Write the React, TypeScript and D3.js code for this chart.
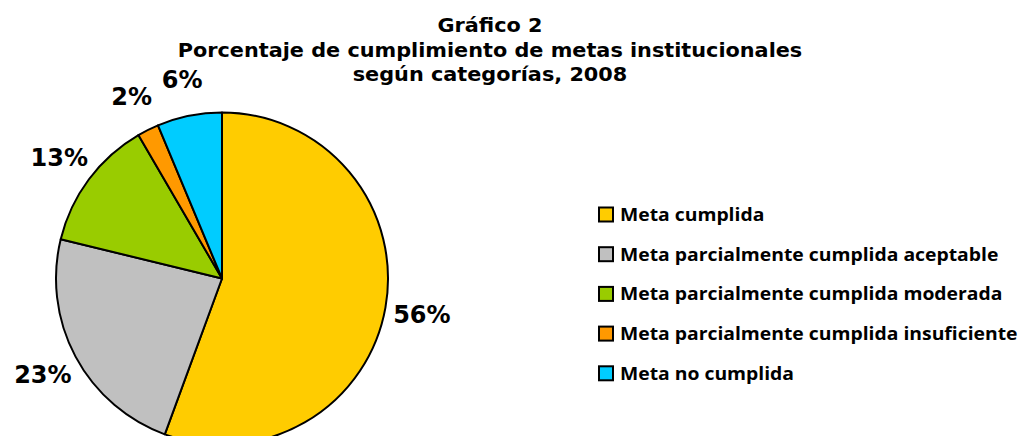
import React from "react";
import * as d3 from "d3";

const categories = [
  "Meta cumplida",
  "Meta parcialmente cumplida aceptable",
  "Meta parcialmente cumplida moderada",
  "Meta parcialmente cumplida insuficiente",
  "Meta no cumplida",
];
const values = [55.6, 23.2, 12.8, 2.1, 6.3];
const colors = ["#FFCC00", "#C0C0C0", "#99CC00", "#FF9900", "#00CCFF"];
const titleLines = [
  "Gráfico 2",
  "Porcentaje de cumplimiento de metas institucionales",
  "según categorías, 2008",
];

const W = 1019;
const H = 436;

export default function App() {
  const cx = 222;
  const cy = 278.5;
  const r = 166;
  const data = categories.map((c, i) => ({ c, v: values[i], color: colors[i] }));
  const pie = d3
    .pie<any>()
    .value((d: any) => d.v)
    .sort(null)
    .startAngle(0)
    .endAngle(2 * Math.PI);
  const arcs = pie(data);
  const arc = d3.arc<any>().innerRadius(0).outerRadius(r);
  const labelArc = d3.arc<any>().innerRadius(r + 37).outerRadius(r + 37);
  const total = d3.sum(values);
  const titleBase = [32, 57, 81];

  return (
    <div style={{ position: "fixed", left: 0, top: 0, width: W, height: H, background: "#fff" }}>
      <svg width={W} height={H} viewBox={`0 0 ${W} ${H}`}>
        <rect width={W} height={H} fill="#fff" />
        <g
          fontFamily="DejaVu Sans"
          fontWeight="bold"
          fontSize={19}
          textAnchor="middle"
          fill="#000"
          transform="translate(490,0) scale(1.095,1)"
        >
          {titleLines.map((t, i) => (
            <text key={i} x={0} y={titleBase[i]}>
              {t}
            </text>
          ))}
        </g>
        <g transform={`translate(${cx},${cy})`}>
          {arcs.map((a, i) => (
            <path key={i} d={arc(a) || ""} fill={a.data.color} stroke="#000" strokeWidth={2} strokeLinejoin="round" />
          ))}
          {arcs.map((a, i) => {
            const [x, y] = labelArc.centroid(a);
            return (
              <text
                key={"l" + i}
                x={x}
                y={y}
                dy="0.36em"
                textAnchor="middle"
                fontFamily="DejaVu Sans"
                fontWeight="bold"
                fontSize={24}
                fill="#000"
              >
                {Math.round((a.data.v / total) * 100)}%
              </text>
            );
          })}
        </g>
        <g>
          {categories.map((c, i) => {
            const y = 214.5 + i * 39.7;
            return (
              <g key={c}>
                <rect x={599} y={y - 7} width={14} height={14} fill={colors[i]} stroke="#000" strokeWidth={2} />
                <text
                  transform={`translate(620,${y + 6.5}) scale(1.075,1)`}
                  fontFamily="Open Sans"
                  fontWeight="bold"
                  fontSize={18}
                  fill="#000"
                >
                  {c}
                </text>
              </g>
            );
          })}
        </g>
      </svg>
    </div>
  );
}
